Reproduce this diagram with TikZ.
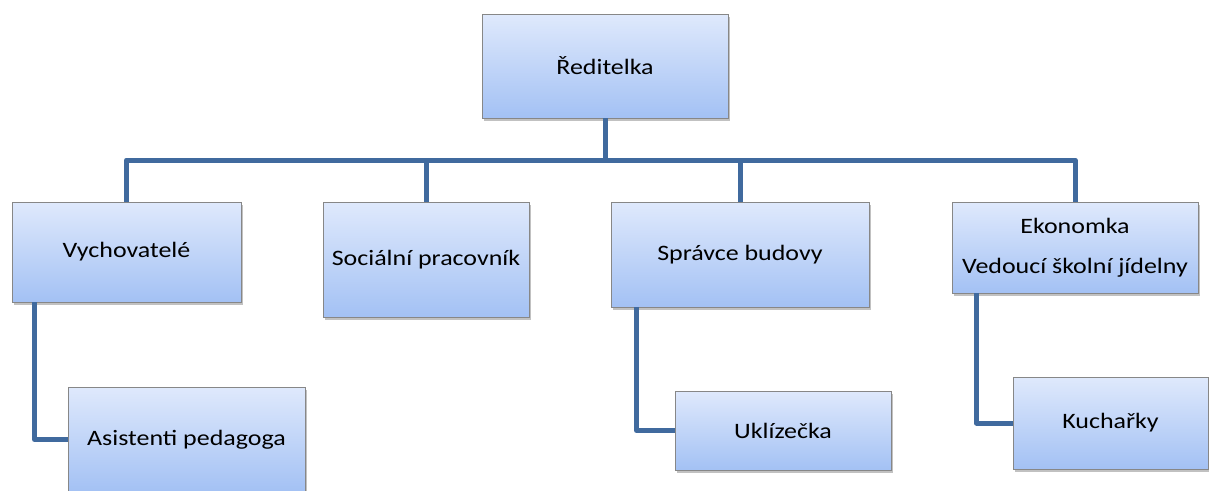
\documentclass[tikz,border=0pt]{standalone}
\usepackage{fontspec}
\setmainfont{Carlito}[FakeStretch=1.18]
\usetikzlibrary{shadows}
\definecolor{linkblue}{RGB}{64,106,158}
\definecolor{boxtop}{RGB}{223,233,252}
\definecolor{boxbot}{RGB}{163,193,244}
\definecolor{boxline}{RGB}{135,135,135}
\tikzset{
  orgbox/.style={draw=boxline, line width=0.9pt, top color=boxtop, bottom color=boxbot,
    inner sep=0pt, align=center, font=\fontsize{22}{40}\selectfont,
    drop shadow={shadow xshift=1.5pt, shadow yshift=-3pt, opacity=0.35, fill=black!70}},
  conn/.style={draw=linkblue, line width=5pt}
}
\begin{document}
\begin{tikzpicture}[x=1pt,y=-1pt]
\useasboundingbox (0,0) rectangle (1209,490);
% boxes
\node[orgbox, minimum width=246pt, minimum height=104pt] (top) at (605,66) {Ředitelka};
\node[orgbox, minimum width=229pt, minimum height=100pt] (vych) at (126.5,252) {Vychovatelé};
\node[orgbox, minimum width=206pt, minimum height=115pt] (soc) at (426,259.5) {Sociální pracovník};
\node[orgbox, minimum width=258pt, minimum height=105pt] (spr) at (740,254.5) {Správce budovy};
\node[orgbox, minimum width=246pt, minimum height=91pt] (eko) at (1075,247.5) {Ekonomka\\Vedoucí školní jídelny};
\node[orgbox, minimum width=237pt, minimum height=105pt] (asis) at (186.5,439.5) {Asistenti pedagoga};
\node[orgbox, minimum width=216pt, minimum height=79pt] (ukl) at (783,430.5) {Uklízečka};
\node[orgbox, minimum width=195pt, minimum height=92pt] (kuch) at (1110.5,423) {Kuchařky};
% connectors
\coordinate (bus) at (605,160);
\draw[conn] (top.south) -- (bus);
\draw[conn, line join=round] (vych.north) |- (bus);
\draw[conn] (soc.north) |- (bus);
\draw[conn] (spr.north) |- (bus);
\draw[conn, line join=round] (eko.north) |- (bus);
\draw[conn, line join=round] ([xshift=23pt]vych.south west) |- (asis.west);
\draw[conn, line join=round] ([xshift=26pt]spr.south west) |- (ukl.west);
\draw[conn, line join=round] ([xshift=25pt]eko.south west) |- (kuch.west);
\end{tikzpicture}
\end{document}
